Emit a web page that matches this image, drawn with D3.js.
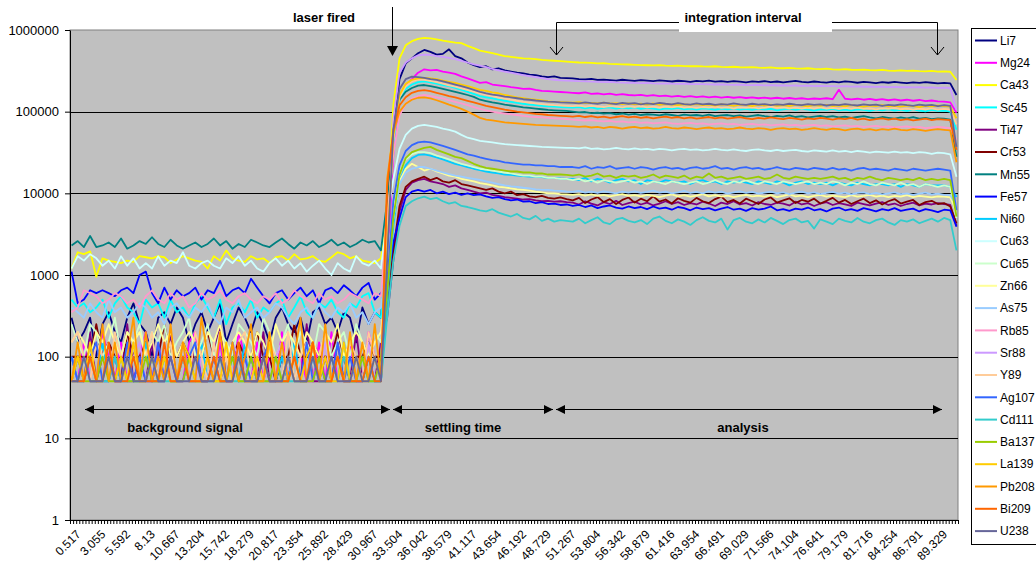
<!DOCTYPE html>
<html>
<head>
<meta charset="utf-8">
<title>Laser ablation signal</title>
<script src="https://d3js.org/d3.v7.min.js"></script>
<style>
  body { margin: 0; background: #fff; }
  svg { display: block; font-family: "Liberation Sans", Arial, sans-serif; }
  .note { font-weight: bold; font-size: 13px; }
</style>
</head>
<body>
<svg id="chart" width="1036" height="574"></svg>
<script>
// counts per second, one value for every second time step (0.517 s, 1.151 s, ... 91.2 s)
// each series: background (51 values), settling (30), analysis (63)
var li7 = [300,150,200,300,100,250,350,200,150,300,450,250,200,100,300,350,250,400,300,150,250,350,200,300,450,150,250,400,300,200,350,250,150,300,400,250,200,300,150,350,400,250,300,200,350,300,150,400,250,350,300,
  2500,60000,250000,390000,450000,520000,570000,540000,500000,510000,580000,480000,450000,400000,370000,350000,360000,330000,340000,320000,310000,300000,295000,285000,280000,270000,265000,270000,260000,258000,
  255000,250000,248000,252000,245000,247000,244000,240000,246000,242000,238000,243000,240000,236000,241000,238000,234000,239000,236000,232000,238000,235000,240000,233000,236000,231000,237000,233000,229000,235000,232000,236000,230000,234000,228000,233000,238000,231000,229000,234000,230000,227000,233000,229000,235000,231000,226000,232000,228000,224000,230000,226000,231000,227000,223000,229000,225000,230000,226000,222000,225000,222000,160000];
var mg24 = [100,50,150,50,50,200,100,50,150,50,50,100,200,50,150,50,100,50,50,150,200,50,100,50,150,50,50,200,100,50,150,50,100,50,200,50,150,100,50,50,150,50,200,50,100,150,50,50,200,100,50,
  1200,30000,150000,210000,250000,300000,330000,320000,325000,310000,300000,290000,270000,255000,240000,225000,230000,215000,210000,205000,200000,196000,190000,192000,185000,180000,178000,176000,174000,172000,
  170000,168000,172000,165000,167000,163000,166000,161000,164000,160000,158000,161000,156000,159000,155000,157000,153000,156000,152000,155000,151000,154000,150000,153000,149000,152000,148000,151000,147000,150000,146000,149000,145000,148000,144000,147000,143000,146000,142000,145000,143000,146000,142000,185000,144000,141000,144000,140000,143000,139000,142000,138000,141000,137000,140000,136000,139000,135000,137000,134000,133000,130000,97000];
var ca43 = [1200,1900,1800,1950,950,1600,1500,1450,1400,1500,1450,1700,1650,1600,1700,1650,1400,1550,1700,1600,1500,1450,1200,1700,1500,2000,1600,1500,1450,1700,1550,1600,1400,1650,1700,1500,1800,1550,1600,1700,1500,1450,1650,1900,1800,1600,1700,1500,1450,1400,1600,
  5000,120000,450000,650000,730000,780000,800000,790000,770000,740000,720000,700000,690000,640000,600000,560000,540000,520000,500000,480000,470000,460000,450000,445000,440000,430000,425000,420000,415000,410000,
  405000,400000,398000,395000,390000,392000,385000,382000,380000,378000,375000,372000,370000,368000,372000,366000,364000,367000,362000,360000,362000,358000,356000,360000,354000,352000,355000,350000,348000,352000,346000,344000,348000,342000,340000,343000,338000,336000,340000,334000,332000,336000,330000,328000,332000,326000,324000,328000,322000,320000,324000,318000,316000,320000,315000,318000,313000,311000,315000,310000,312000,308000,244000];
var sc45 = [500,400,450,350,400,500,300,450,550,400,350,250,500,400,450,300,500,350,400,300,450,550,400,300,500,250,400,450,350,500,300,400,350,450,500,300,400,550,350,300,450,400,500,350,300,450,400,550,600,350,300,
  3000,40000,140000,190000,215000,230000,235000,228000,220000,212000,205000,195000,185000,175000,165000,155000,150000,145000,140000,136000,132000,128000,125000,122000,120000,118000,116000,115000,114000,113000,
  112000,114000,110000,113000,108000,111000,113000,109000,112000,110000,113000,108000,111000,109000,106000,110000,108000,111000,107000,109000,106000,110000,108000,105000,109000,107000,110000,106000,108000,105000,109000,106000,108000,104000,107000,109000,105000,108000,106000,103000,107000,105000,108000,104000,106000,103000,107000,105000,102000,106000,104000,107000,103000,105000,102000,106000,103000,101000,105000,102000,103000,100000,60000];
var ti47 = [50,100,50,200,50,100,150,50,50,250,50,100,50,150,50,50,200,50,100,50,150,50,50,100,250,50,50,150,50,100,50,200,50,50,100,50,150,50,250,50,50,100,50,150,50,50,200,50,100,50,150,
  300,1500,6000,11000,13500,14500,15000,14000,13500,13000,12000,12500,11500,11000,10500,10000,10200,9600,9300,9000,8800,8600,8400,8500,8200,8000,8100,7900,8000,7800,
  7700,7300,8000,7500,7100,7800,7400,8100,7200,7600,7900,7300,7700,7100,7500,8000,7400,7800,7200,7600,7300,7900,7500,7000,7700,7400,8000,7300,7600,7100,7800,7400,7200,7700,7500,7100,7900,7300,7600,7000,7500,7800,7200,7600,7300,7000,7700,7400,7100,7500,7800,7200,7500,7000,7400,7700,7100,7500,7300,7600,7400,7200,4000];
var cr53 = [100,100,100,100,250,100,150,100,50,200,100,100,150,50,100,250,100,100,150,100,100,100,200,100,50,100,100,150,100,100,200,100,100,50,100,100,250,100,100,150,100,100,100,200,100,50,100,100,150,100,100,
  500,2000,7000,12000,14000,15000,16000,14500,15500,14000,13500,14500,13000,12500,12000,11500,11000,11500,10500,10000,10500,9500,9800,9200,9000,9300,8800,8600,8900,8500,
  8200,8800,7600,8400,9000,7800,8500,7400,8300,8900,7700,8600,8000,9200,7900,8400,7500,8700,8100,7700,8800,8000,7600,8500,9100,7800,8300,7500,8600,8000,7400,8400,8900,7700,8200,8700,7600,8300,7900,8600,7500,8100,8800,7700,8300,7400,8000,8600,7600,8200,7300,8000,8500,7500,7900,8300,7200,7800,8100,7400,7600,6900,4300];
var mn55 = [2300,2600,2200,3000,2200,2300,2500,2200,2800,2100,2300,2600,2400,2900,2400,2200,2700,2300,2100,2300,2500,2200,2400,2800,2300,2600,2100,2400,2200,2700,2500,2300,2200,2500,2800,2400,2100,2500,2300,2600,2200,2400,2700,2300,2500,2200,2400,2700,2500,2600,2000,
  8000,50000,140000,175000,195000,208000,212000,205000,198000,190000,182000,175000,168000,160000,152000,140000,135000,130000,126000,122000,119000,116000,113000,111000,109000,107000,105000,104000,103000,102000,
  100000,98000,99000,96000,97000,95000,96000,93000,95000,92000,94000,91000,93000,92000,90000,93000,91000,89000,92000,90000,91000,89000,92000,88000,90000,91000,88000,90000,87000,89000,91000,88000,86000,89000,87000,90000,86000,88000,85000,87000,89000,86000,88000,85000,87000,84000,86000,88000,85000,83000,86000,84000,82000,85000,83000,86000,82000,84000,81000,83000,82000,80000,28000];
var fe57 = [1100,450,500,650,600,650,600,550,650,700,600,1000,1100,600,450,700,500,650,550,600,700,500,650,600,850,550,650,700,600,900,700,550,450,600,650,500,600,700,550,650,450,650,700,600,750,650,550,700,800,500,600,
  800,2500,5000,9000,10500,11000,10500,11000,10000,10500,9800,10200,9600,10000,9500,9700,9200,8800,9000,8500,8200,8400,7900,8000,7600,7800,7400,7500,7200,7300,
  7000,7200,6800,7100,6600,6900,7100,6700,6500,6900,6600,6800,6400,6900,6500,6700,6300,6800,6600,6200,6700,6400,6600,6200,6500,6800,6300,6500,6100,6600,6300,6500,6900,6200,6400,6100,6500,6300,6700,6200,6400,6000,6500,6700,6200,6400,6100,6600,6300,6000,6400,6200,6600,6100,6300,6500,6000,6400,6200,5900,6300,6200,3900];
var ni60 = [100,50,50,100,50,150,50,100,50,50,100,50,150,50,50,100,50,50,100,50,50,150,50,100,50,50,100,50,150,50,50,100,50,50,100,50,150,50,50,100,50,50,100,50,150,50,50,100,50,50,50,
  500,4000,14000,22000,27000,29500,30000,29000,27500,26000,24500,23000,22000,21000,20000,19300,18500,18000,17500,17000,16800,16500,16300,16000,16000,15800,15500,15500,15200,15000,
  15000,14500,15500,14000,15000,14500,13500,14500,15000,14000,14500,13000,14500,14000,13500,14500,14000,13500,14000,13000,14000,14500,13500,14000,13000,14000,13500,14000,13500,13000,14000,13500,13000,14000,13500,12500,13500,14000,13000,13500,13000,13500,12500,13500,13000,12500,13500,13000,12500,13000,13000,12500,13000,12000,13000,12500,12000,13000,12500,12500,12500,12000,9000];
var cu63 = [1200,1700,1500,1800,1600,1300,1500,1200,1700,1300,1600,1200,1400,1200,1700,1300,1500,1400,1900,1300,1200,1400,1500,1300,1200,1600,1400,1700,1300,1500,1200,1100,1400,1600,1300,1500,1200,1400,1100,1300,1500,1200,1000,1400,1200,1100,1700,1400,1300,1500,1200,
  5000,15000,35000,52000,62000,67000,69000,67000,65000,62000,60000,57000,52000,48000,46000,44000,43000,42000,41000,40000,39500,39000,38500,38000,37500,37000,36800,36500,36200,36000,
  36000,35500,36500,35000,35500,34500,35000,36000,35000,34500,35500,34500,35000,34000,35000,34500,33500,34500,35000,34000,34500,33500,34000,35000,34000,33500,34500,33500,33000,34000,34500,33500,33000,34000,33000,33500,34000,33000,32500,33500,33000,32500,33500,32500,33000,32000,33000,32500,31500,32500,32000,31500,32500,31500,32000,31000,32000,31500,30500,31500,31000,30000,16000];
var cu65 = [250,150,100,250,200,100,150,300,100,200,150,250,100,200,150,250,100,150,200,300,100,150,250,100,200,150,100,250,200,150,100,300,200,100,150,250,100,200,150,100,250,200,100,150,200,100,250,150,100,200,150,
  1500,6000,18000,26000,30000,32000,32000,31000,29000,27500,26000,24500,23000,22000,21000,20000,19500,19000,18500,18000,17500,17000,16500,16500,16000,16000,15500,15500,15000,15000,
  14500,15000,14000,14500,13500,14500,14000,13500,14000,14500,13500,14000,13000,14000,13500,13000,14000,13500,13000,13500,14000,13000,13500,14500,13500,13000,14000,13500,14500,13500,13000,14000,13500,13000,14000,13500,13000,13500,14000,13000,13500,13000,14000,13500,12500,13500,13000,14000,13000,12500,13500,13000,12500,13500,12500,13000,12000,13000,12500,12000,12500,12000,5000];
var zn66 = [150,200,150,100,200,150,250,150,100,200,150,200,100,150,250,150,200,100,150,200,150,100,200,150,250,100,150,200,150,100,200,150,100,250,150,200,150,100,200,150,100,200,150,250,100,150,200,150,100,150,200,
  1000,5000,14000,20000,23000,21000,19000,20000,18500,17500,16500,16000,15000,14500,14000,13300,13000,12500,12000,11800,11500,11200,11000,10800,10500,10300,10000,10000,9800,9700,
  9600,9800,9400,9700,9300,9600,9200,9500,9800,9300,9500,9200,9600,9300,9000,9400,9700,9200,9500,9100,9400,9800,9200,9500,9100,9400,9000,9300,9600,9200,9400,9100,9500,9000,9300,9700,9200,9400,9000,9300,9600,9100,9400,9200,9000,9500,9100,9300,9600,9100,9400,9000,9300,9100,9500,9000,9300,9100,8900,9200,9100,8900,6000];
var as75 = [400,350,300,450,350,300,500,350,400,300,350,450,400,300,350,250,400,450,350,300,400,350,450,300,250,400,350,500,300,350,400,300,350,450,400,300,250,350,400,300,450,350,300,400,350,450,300,350,250,350,400,
  1800,5000,13000,18000,20000,21000,21000,20000,19000,18000,17200,16500,16000,15500,15000,14600,14000,13500,13000,12500,12200,12000,11700,11500,11200,11000,11000,10800,10700,10500,
  10400,10700,10200,10500,10100,10600,10300,10000,10500,10200,10600,10100,10400,10800,10200,10500,10000,10300,10700,10100,10400,10000,10600,10200,10500,9900,10300,10600,10100,10400,9900,10200,10500,10000,10300,9800,10200,10500,10000,10300,9800,10100,10400,9900,10200,9700,10100,10300,9800,10100,9700,10000,10300,9800,10000,9600,9900,10200,9700,9900,9600,9500,7000];
var rb85 = [350,400,650,600,550,450,500,600,550,450,500,400,550,650,500,450,600,500,550,400,450,600,500,550,650,500,450,550,600,500,450,550,500,600,450,500,650,550,500,450,600,500,550,450,500,600,550,500,450,600,550,
  5000,30000,90000,125000,145000,155000,160000,155000,150000,145000,138000,132000,126000,120000,114000,108000,104000,100000,97000,95000,93000,91000,89000,87000,86000,85000,84000,83000,82000,81000,
  80000,79000,78000,79000,77000,76000,77000,75000,76000,74000,75000,73000,74000,72000,73000,74000,72000,71000,72000,73000,71000,72000,70000,71000,72000,70000,71000,69000,70000,71000,69000,70000,68000,69000,70000,68000,69000,67000,68000,69000,67000,68000,66000,67000,68000,66000,67000,65000,66000,67000,65000,66000,64000,65000,66000,64000,65000,63000,64000,65000,64000,63000,45000];
var sr88 = [50,100,50,50,150,100,50,100,50,50,100,150,50,50,100,50,100,50,150,50,50,100,50,100,50,50,150,100,50,50,100,50,50,100,150,50,100,50,50,100,50,150,50,100,50,50,100,50,150,50,100,
  1500,80000,300000,400000,450000,490000,500000,495000,480000,470000,455000,440000,420000,400000,380000,365000,350000,335000,320000,310000,300000,290000,280000,272000,265000,258000,250000,246000,242000,240000,
  238000,236000,235000,233000,232000,230000,231000,228000,227000,226000,225000,224000,225000,222000,221000,222000,220000,219000,220000,218000,217000,218000,216000,215000,216000,214000,213000,214000,212000,211000,212000,210000,211000,209000,210000,208000,209000,207000,208000,206000,207000,205000,206000,204000,205000,203000,204000,202000,203000,201000,202000,200000,201000,199000,200000,198000,199000,197000,198000,196000,197000,195000,105000];
var y89 = [150,200,100,50,150,100,50,200,100,50,150,50,100,200,50,100,150,50,100,50,200,100,50,150,50,100,50,150,200,50,100,50,150,100,50,200,50,100,150,50,100,200,50,100,50,150,100,50,200,100,50,
  3000,45000,150000,205000,235000,248000,245000,238000,230000,220000,210000,202000,193000,185000,176000,168000,161000,155000,149000,144000,140000,136000,132000,129000,126000,124000,122000,120000,119000,118000,
  117000,119000,115000,118000,116000,114000,117000,115000,113000,116000,114000,117000,113000,115000,112000,115000,113000,116000,112000,114000,111000,114000,112000,115000,111000,113000,110000,113000,111000,114000,110000,112000,115000,111000,113000,110000,112000,109000,112000,110000,113000,109000,111000,108000,111000,109000,112000,108000,110000,107000,110000,108000,111000,107000,109000,106000,109000,107000,110000,106000,108000,106000,70000];
var ag107 = [100,50,50,100,150,50,50,100,50,150,50,100,50,50,150,50,100,50,50,100,150,50,50,100,50,50,150,50,100,50,50,100,150,50,50,100,50,50,150,50,100,50,50,150,50,100,50,50,100,50,50,
  800,8000,22000,33000,39000,42000,43000,42000,40000,38000,36000,34000,32000,30000,29000,27500,26500,25500,25000,24000,23500,23000,22500,22500,22000,22000,21500,21500,21000,21000,
  21000,20500,21500,20000,21000,20500,21500,20000,20500,21000,20000,21000,20500,19500,20500,21000,20000,20500,19500,20500,21000,20000,20500,21500,20000,20500,19500,20500,21000,20000,20500,19500,20000,21000,20000,19500,20500,20000,19500,20500,20000,19500,20500,19500,20000,19000,20000,20500,19500,20000,19500,19000,20000,19500,19000,20000,19500,19000,19500,20000,19500,19000,6200];
var cd111 = [50,50,100,50,50,50,50,100,50,50,50,50,50,100,50,50,50,50,100,50,50,50,50,50,100,50,50,50,50,100,50,50,50,100,50,50,50,50,50,100,50,50,50,50,100,50,50,50,100,50,50,
  300,1500,4000,7000,8000,8700,9100,8500,8800,8000,7500,7800,7000,6800,6500,6200,6000,6400,5800,5500,5200,5600,5000,4800,5300,4600,4900,4500,4700,4600,
  4500,4900,4300,4700,5100,4400,4200,4800,5000,4600,4400,4700,4200,4900,5200,4600,4300,4800,4500,4100,4700,5100,4600,4400,4900,3600,4700,5000,4500,4300,4800,4400,5000,4600,4200,4700,4900,4400,4600,3700,4800,4500,4200,4900,4600,4400,5000,4500,4300,4700,4900,4400,4100,4700,4500,4800,4300,4600,4900,4500,5000,4700,2000];
var ba137 = [50,100,50,50,50,100,50,50,100,50,50,50,100,50,50,100,50,50,50,100,50,50,100,50,50,50,100,50,50,100,50,50,50,100,50,50,100,50,50,50,100,50,50,100,50,50,50,100,50,50,100,
  600,5000,17000,27000,32000,34000,36000,37000,34000,32000,30000,28000,27000,25000,23000,21500,20500,20000,19500,19000,18500,18500,18000,18000,17500,17500,17000,17000,17000,16800,
  16500,17000,16000,16500,17500,16000,16500,15500,16500,16000,16500,15500,16000,17000,15500,16500,16000,15500,16500,15000,16000,15500,17500,15500,16000,15000,15500,16000,15000,15500,16000,15000,15500,17000,15500,15000,16000,15500,15000,15500,15000,15500,16000,15000,15500,14500,15500,15000,16000,15000,14500,15500,15000,14500,15000,14500,15500,14500,15000,14500,15000,14500,5200];
var la139 = [50,100,50,150,50,50,100,50,100,50,150,50,50,100,50,100,50,50,150,100,50,50,100,50,50,150,50,100,50,50,100,50,150,50,50,100,50,50,100,150,50,100,50,50,150,50,100,50,50,100,50,
  2000,50000,160000,220000,245000,255000,260000,255000,250000,240000,232000,225000,215000,205000,195000,185000,180000,172000,168000,160000,155000,150000,146000,142000,140000,137000,134000,132000,131000,130000,
  129000,131000,127000,128000,126000,129000,125000,127000,124000,126000,123000,125000,122000,126000,121000,124000,122000,120000,123000,121000,124000,120000,122000,119000,123000,121000,118000,122000,120000,117000,121000,119000,122000,118000,120000,117000,121000,119000,116000,120000,118000,121000,117000,119000,116000,120000,118000,115000,119000,117000,120000,116000,118000,115000,119000,117000,114000,118000,116000,119000,117000,115000,83000];
var pb208 = [50,150,50,100,50,250,50,150,50,100,300,50,200,50,100,50,250,50,150,50,50,300,100,50,200,50,150,50,100,250,50,50,200,50,150,50,100,300,50,150,50,250,50,100,50,200,50,150,50,250,50,
  15000,55000,100000,125000,140000,148000,150000,145000,138000,130000,122000,115000,108000,100000,92000,84000,80000,78000,76000,74000,73000,72000,71000,70000,69000,68500,68000,67500,67000,66500,
  66000,65000,66000,64000,65000,63000,65000,64000,62000,64000,65000,63000,64000,62000,63000,65000,63000,62000,64000,63000,61000,63000,64000,62000,63000,61000,62000,64000,62000,61000,63000,62000,60000,62000,63000,61000,62000,60000,61000,63000,61000,60000,62000,61000,59000,61000,62000,60000,61000,59000,61000,60000,62000,60000,59000,61000,60000,58000,60000,61000,60000,59000,24000];
var bi209 = [50,50,50,100,50,50,150,50,50,50,100,50,50,50,50,150,50,50,100,50,50,50,50,100,50,50,50,150,50,50,50,100,50,50,50,50,100,50,50,150,50,50,50,100,50,50,50,50,100,50,50,
  12000,60000,120000,150000,170000,180000,184000,178000,170000,163000,155000,150000,142000,136000,130000,124000,118000,114000,110000,106000,103000,100000,98000,96000,94000,93000,91000,90000,89000,88000,
  87000,89000,86000,88000,85000,87000,84000,86000,88000,85000,87000,84000,86000,83000,85000,87000,84000,86000,83000,85000,82000,84000,86000,83000,85000,82000,84000,86000,83000,81000,84000,82000,85000,83000,81000,84000,82000,80000,83000,81000,84000,82000,80000,83000,81000,84000,80000,82000,79000,81000,83000,80000,82000,79000,81000,78000,80000,82000,79000,81000,80000,79000,34000];
var u238 = [50,50,100,50,50,50,100,50,50,100,50,50,50,100,50,50,100,50,50,50,100,50,50,50,100,50,50,100,50,50,50,100,50,50,50,100,50,50,50,100,50,50,100,50,50,50,100,50,50,100,50,
  1500,60000,190000,250000,268000,265000,260000,250000,245000,235000,225000,215000,205000,195000,185000,175000,168000,162000,158000,153000,150000,146000,142000,140000,137000,135000,133000,132000,130000,129000,
  128000,126000,130000,127000,125000,129000,126000,124000,128000,125000,127000,123000,126000,124000,128000,125000,123000,127000,124000,122000,126000,123000,125000,121000,124000,122000,126000,123000,121000,125000,122000,124000,120000,123000,121000,125000,122000,120000,124000,121000,123000,119000,122000,120000,124000,121000,119000,123000,120000,122000,118000,121000,119000,123000,120000,118000,122000,119000,121000,117000,120000,118000,37000];

var names = ["Li7", "Mg24", "Ca43", "Sc45", "Ti47", "Cr53", "Mn55", "Fe57", "Ni60", "Cu63", "Cu65", "Zn66",
             "As75", "Rb85", "Sr88", "Y89", "Ag107", "Cd111", "Ba137", "La139", "Pb208", "Bi209", "U238"];
var colors = ["#000080", "#ff00ff", "#ffff00", "#00ffff", "#800080", "#800000", "#008080", "#0000ff", "#00ccff", "#ccffff", "#ccffcc", "#ffff99",
              "#99ccff", "#ff99cc", "#cc99ff", "#ffcc99", "#3366ff", "#33cccc", "#99cc00", "#ffcc00", "#ff9900", "#ff6600", "#666699"];
var allSeries = [li7, mg24, ca43, sc45, ti47, cr53, mn55, fe57, ni60, cu63, cu65, zn66,
                 as75, rb85, sr88, y89, ag107, cd111, ba137, la139, pb208, bi209, u238];

var timeLabels = ["0.517", "3.055", "5.592", "8.13", "10.667", "13.204", "15.742", "18.279", "20.817", "23.354", "25.892", "28.429",
                  "30.967", "33.504", "36.042", "38.579", "41.117", "43.654", "46.192", "48.729", "51.267", "53.804", "56.342", "58.879",
                  "61.416", "63.954", "66.491", "69.029", "71.566", "74.104", "76.641", "79.179", "81.716", "84.254", "86.791", "89.329"];
var yTicks = [1, 10, 100, 1000, 10000, 100000, 1000000];
var nSteps = 287;       // time steps on the category axis
var sampleEvery = 2;    // series hold every second step
var labelEvery = 8;

var svg = d3.select("#chart"),
    margin = {top: 30, right: 78, bottom: 54, left: 70},
    width = 1036 - margin.left - margin.right,
    height = 574 - margin.top - margin.bottom;

var x = d3.scaleLinear().domain([0, nSteps]).range([0, width]),
    y = d3.scaleLog().domain([1, 1e6]).range([height, 0]);

var g = svg.append("g")
    .attr("transform", "translate(" + margin.left + "," + margin.top + ")");

g.append("rect")
    .attr("width", width)
    .attr("height", height)
    .attr("fill", "#c0c0c0")
    .attr("stroke", "#808080");

g.selectAll(".grid")
  .data(yTicks.slice(1, -1))
  .enter().append("line")
    .attr("class", "grid")
    .attr("x1", 0)
    .attr("x2", width)
    .attr("y1", function(d) { return Math.round(y(d)) + 0.5; })
    .attr("y2", function(d) { return Math.round(y(d)) + 0.5; })
    .attr("stroke", "#000");

// series lines
var line = d3.line()
    .x(function(d, j) { return x(j * sampleEvery + 0.5); })
    .y(function(d) { return y(d); });

g.append("g").selectAll("path")
  .data(allSeries)
  .enter().append("path")
    .attr("d", line)
    .attr("fill", "none")
    .attr("stroke", function(d, i) { return colors[i]; })
    .attr("stroke-width", 1.8)
    .attr("stroke-linejoin", "round");

// axes
var yAxis = g.append("g")
    .call(d3.axisLeft(y).tickValues(yTicks).tickFormat(d3.format("d")).tickSize(5).tickSizeOuter(0));
yAxis.selectAll("text").attr("font-size", 13).attr("font-family", "Liberation Sans, Arial, sans-serif").attr("x", -11);
yAxis.select(".domain").attr("stroke", "#000");

var xAxis = g.append("g")
    .attr("transform", "translate(0," + height + ")")
    .call(d3.axisBottom(x).tickValues(d3.range(0, nSteps + 1)).tickFormat("").tickSize(4).tickSizeOuter(0));
xAxis.select(".domain").attr("stroke", "#000");

g.append("g").selectAll("text")
  .data(timeLabels)
  .enter().append("text")
    .attr("transform", function(d, i) {
      return "translate(" + (x(i * labelEvery + 0.5) + 7) + "," + (height + 12) + ") rotate(-45)";
    })
    .attr("text-anchor", "end")
    .attr("dy", "0.35em")
    .attr("font-size", 12)
    .text(function(d) { return d; });

// legend
var legend = svg.append("g");
legend.append("rect")
    .attr("x", 971.5).attr("y", 28.5)
    .attr("width", 80).attr("height", 516)
    .attr("fill", "#fff").attr("stroke", "#000");
var item = legend.selectAll(".item")
  .data(names)
  .enter().append("g")
    .attr("transform", function(d, i) { return "translate(975," + (40.5 + i * 22.3) + ")"; });
item.append("line")
    .attr("x1", 0).attr("x2", 22)
    .attr("stroke", function(d, i) { return colors[i]; })
    .attr("stroke-width", 2);
item.append("text")
    .attr("x", 25).attr("dy", "0.35em")
    .attr("font-size", 12)
    .text(function(d) { return d; });

// annotations
function head(px, py, dir) {
  // filled arrow head pointing left/right/down
  var p;
  if (dir == "left") p = [[px, py], [px + 9, py - 4.5], [px + 9, py + 4.5]];
  else if (dir == "right") p = [[px, py], [px - 9, py - 4.5], [px - 9, py + 4.5]];
  else p = [[px, py], [px - 5.5, py - 10], [px + 5.5, py - 10]];
  svg.append("path").attr("d", "M" + p.join("L") + "Z").attr("fill", "#000");
}

var spans = [
  {from: 85, to: 390, text: "background signal", tx: 185},
  {from: 393, to: 553, text: "settling time", tx: 463},
  {from: 556, to: 942, text: "analysis", tx: 743}
];
spans.forEach(function(s) {
  svg.append("line").attr("x1", s.from).attr("x2", s.to).attr("y1", 409.5).attr("y2", 409.5).attr("stroke", "#000");
  head(s.from, 409.5, "left");
  head(s.to, 409.5, "right");
  svg.append("text").attr("class", "note").attr("x", s.tx).attr("y", 432).attr("text-anchor", "middle").text(s.text);
});

svg.append("text").attr("class", "note").attr("x", 324).attr("y", 22).attr("text-anchor", "middle").text("laser fired");
svg.append("line").attr("x1", 392.5).attr("x2", 392.5).attr("y1", 7).attr("y2", 47).attr("stroke", "#000");
head(392.5, 56, "down");

svg.append("path")
    .attr("d", "M556.5,55V22.5H937.5V55 M550,47L556.5,55L563,47 M931,47L937.5,55L944,47")
    .attr("fill", "none").attr("stroke", "#000");
svg.append("rect").attr("x", 679).attr("y", 6).attr("width", 153).attr("height", 26).attr("fill", "#fff");
svg.append("text").attr("class", "note").attr("x", 743).attr("y", 22).attr("text-anchor", "middle").text("integration interval");
</script>
</body>
</html>
